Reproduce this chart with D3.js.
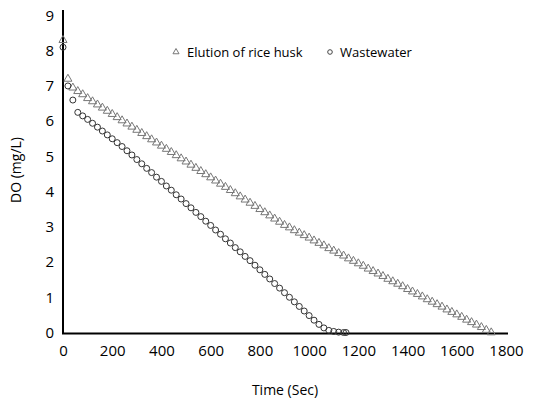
<!DOCTYPE html>
<html>
<head>
<meta charset="utf-8">
<script src="https://cdn.jsdelivr.net/npm/d3@7"></script>
<style>
  body { margin: 0; background: #fff; }
  text { font-family: "Open Sans", "Noto Sans", sans-serif; fill: #000; }
</style>
</head>
<body>
<svg id="chart" width="540" height="400"></svg>
<script>
// time (sec), DO (mg/L)
var riceHusk = [
  [0,8.30],[20,7.20],[40,6.95],[60,6.85],[80,6.76],[100,6.65],[120,6.56],[140,6.47],[160,6.38],[180,6.29],
  [200,6.20],[220,6.11],[240,6.02],[260,5.93],[280,5.84],[300,5.75],[320,5.66],[340,5.57],[360,5.48],[380,5.39],
  [400,5.30],[420,5.21],[440,5.12],[460,5.03],[480,4.94],[500,4.85],[520,4.76],[540,4.67],[560,4.58],[580,4.49],
  [600,4.40],[620,4.31],[640,4.22],[660,4.13],[680,4.04],[700,3.95],[720,3.86],[740,3.77],[760,3.68],[780,3.59],
  [800,3.50],[820,3.41],[840,3.32],[860,3.23],[880,3.14],[900,3.05],[920,2.98],[940,2.90],[960,2.83],[980,2.76],
  [1000,2.69],[1020,2.61],[1040,2.54],[1060,2.47],[1080,2.39],[1100,2.32],[1120,2.25],[1140,2.18],[1160,2.10],[1180,2.03],
  [1200,1.96],[1220,1.89],[1240,1.81],[1260,1.74],[1280,1.67],[1300,1.60],[1320,1.52],[1340,1.45],[1360,1.38],[1380,1.31],
  [1400,1.23],[1420,1.16],[1440,1.09],[1460,1.02],[1480,0.94],[1500,0.87],[1520,0.80],[1540,0.73],[1560,0.65],[1580,0.58],
  [1600,0.51],[1620,0.44],[1640,0.36],[1660,0.29],[1680,0.22],[1700,0.15],[1720,0.07],[1740,0.00]
];

var wastewater = [
  [0,8.10],[20,7.00],[40,6.60],[60,6.25],[80,6.15],[100,6.05],[120,5.94],[140,5.83],[160,5.72],[180,5.61],
  [200,5.50],[220,5.39],[240,5.28],[260,5.16],[280,5.04],[300,4.91],[320,4.79],[340,4.66],[360,4.54],[380,4.41],
  [400,4.29],[420,4.16],[440,4.04],[460,3.91],[480,3.79],[500,3.66],[520,3.54],[540,3.41],[560,3.29],[580,3.16],
  [600,3.04],[620,2.91],[640,2.79],[660,2.66],[680,2.54],[700,2.41],[720,2.29],[740,2.16],[760,2.04],[780,1.91],
  [800,1.78],[820,1.65],[840,1.52],[860,1.39],[880,1.26],[900,1.13],[920,1.00],[940,0.87],[960,0.74],[980,0.61],
  [1000,0.48],[1020,0.35],[1040,0.23],[1060,0.13],[1080,0.06],[1100,0.03],[1120,0.01],[1140,0.00],[1150,0.00]
];

var xTicks = [0, 200, 400, 600, 800, 1000, 1200, 1400, 1600, 1800];
var yTicks = [0, 1, 2, 3, 4, 5, 6, 7, 8, 9];
var seriesNames = ["Elution of rice husk", "Wastewater"];

var svg = d3.select("#chart");

var x = d3.scaleLinear().domain([0, 1800]).range([63, 506]);
var y = d3.scaleLinear().domain([0, 9]).range([332.5, 15.5]);

// axes: labels only, lines drawn by hand
svg.append("g")
    .attr("transform", "translate(0,333)")
    .call(d3.axisBottom(x).tickValues(xTicks).tickFormat(d3.format("d")).tickSize(0).tickPadding(12))
    .call(function(g) { g.select(".domain").remove(); })
    .selectAll("text")
    .style("font-size", "15px")
    .style("font-family", "'Open Sans', sans-serif")
    .attr("fill", "#000");

svg.append("g")
    .attr("transform", "translate(63,0)")
    .call(d3.axisLeft(y).tickValues(yTicks).tickSize(0).tickPadding(9))
    .call(function(g) { g.select(".domain").remove(); })
    .selectAll("text")
    .style("font-size", "15px")
    .style("font-family", "'Open Sans', sans-serif")
    .attr("fill", "#000");

svg.append("line")
    .attr("x1", 63).attr("x2", 63)
    .attr("y1", 10).attr("y2", 334)
    .attr("stroke", "#000").attr("stroke-width", 2);

svg.append("line")
    .attr("x1", 62).attr("x2", 508)
    .attr("y1", 333.5).attr("y2", 333.5)
    .attr("stroke", "#000").attr("stroke-width", 2);

var tri = d3.symbol().type(d3.symbolTriangle).size(28);

svg.append("g").selectAll("path")
    .data(riceHusk)
    .enter().append("path")
    .attr("d", tri)
    .attr("transform", function(d) { return "translate(" + x(d[0]) + "," + y(d[1]) + ")"; })
    .attr("fill", "none")
    .attr("stroke", "#777")
    .attr("stroke-width", 1);

svg.append("g").selectAll("circle")
    .data(wastewater)
    .enter().append("circle")
    .attr("cx", function(d) { return x(d[0]); })
    .attr("cy", function(d) { return y(d[1]); })
    .attr("r", 3)
    .attr("fill", "none")
    .attr("stroke", "#333")
    .attr("stroke-width", 1);

// legend
var legend = svg.append("g");
legend.append("path")
    .attr("d", d3.symbol().type(d3.symbolTriangle).size(16))
    .attr("transform", "translate(176,52)")
    .attr("fill", "none").attr("stroke", "#777");
legend.append("text")
    .attr("x", 187).attr("y", 52).attr("dy", "0.35em")
    .style("font-size", "13px")
    .text(seriesNames[0]);
legend.append("circle")
    .attr("cx", 330).attr("cy", 52).attr("r", 2.3)
    .attr("fill", "none").attr("stroke", "#444");
legend.append("text")
    .attr("x", 340).attr("y", 52).attr("dy", "0.35em")
    .style("font-size", "13px")
    .text(seriesNames[1]);

// titles
svg.append("text")
    .attr("x", 285).attr("y", 390).attr("dy", "0.35em")
    .attr("text-anchor", "middle")
    .style("font-size", "14px")
    .text("Time (Sec)");

svg.append("text")
    .attr("transform", "translate(16,170) rotate(-90)")
    .attr("dy", "0.35em")
    .attr("text-anchor", "middle")
    .style("font-size", "14px")
    .text("DO (mg/L)");
</script>
</body>
</html>
